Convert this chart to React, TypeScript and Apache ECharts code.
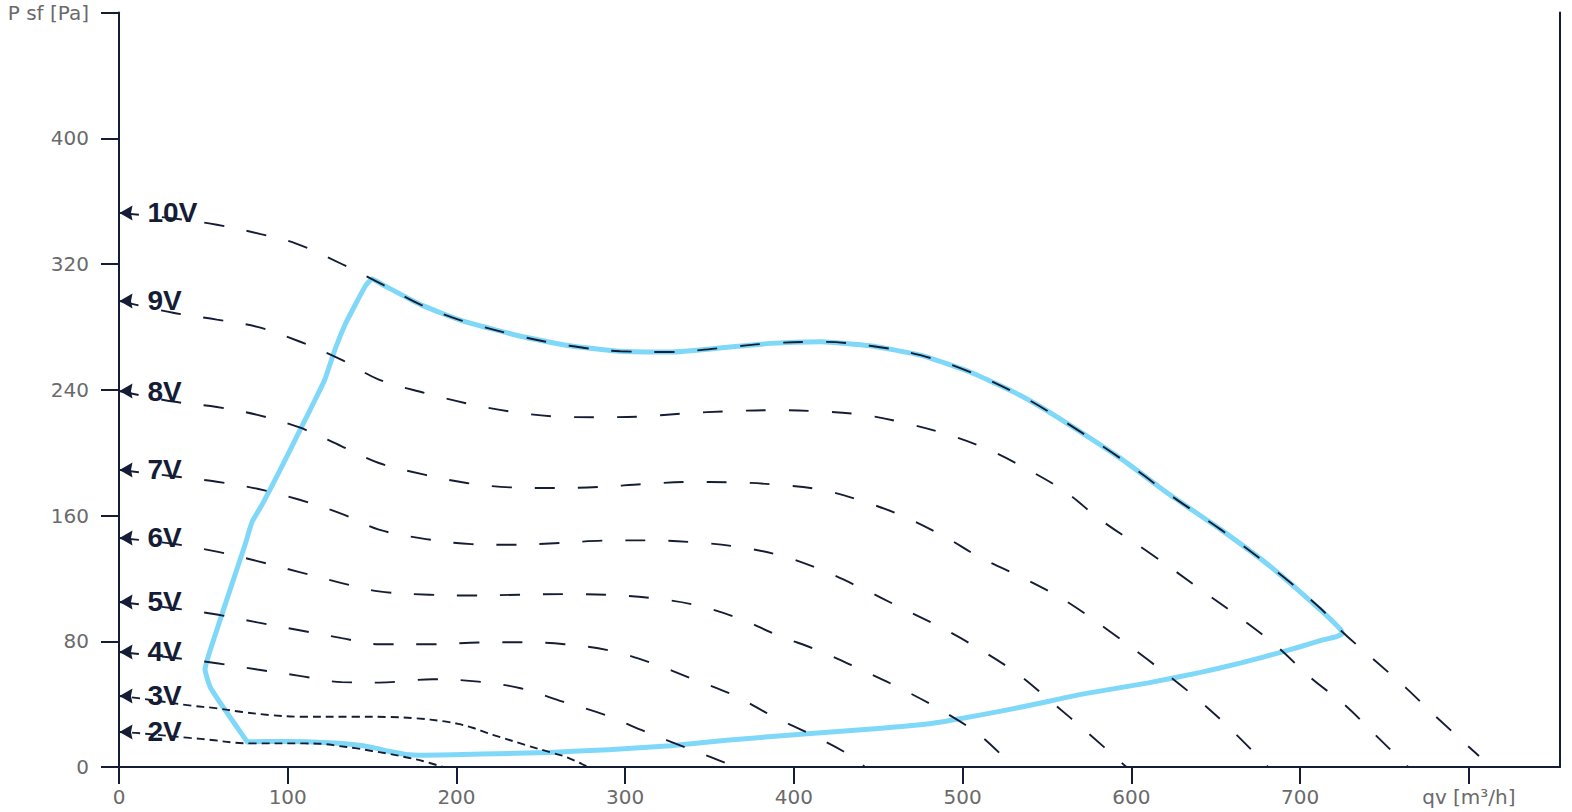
import React, { useEffect, useRef } from 'react';
import * as echarts from 'echarts';

// ---- data ----
const xTickValues = [0, 100, 200, 300, 400, 500, 600, 700, 800];
const X_MAX = 854;
const Y_MAX = 480;
const X_NAME = 'qv [m³/h]';
const Y_NAME = 'P sf [Pa]';

const envelope: number[][] = [
  [76, 16], [62, 37.6], [54, 51], [51, 62], [57, 84], [65.8, 112.7], [74.7, 141.4], [78.9, 156],
  [84.8, 166.9], [95.5, 189], [107.4, 214.6], [116.3, 233.8], [122, 246.5], [128, 265.6],
  [134, 281.5], [140, 294], [146, 306], [150, 310.5], [156, 307], [179, 294], [203, 284],
  [238, 274], [267, 268], [297, 264.5], [327, 264], [356, 266.5], [386, 269.5], [416, 270.5],
  [445, 268], [475, 262], [505, 251], [534, 236.5], [557, 222], [594, 196], [623, 173],
  [653, 151], [683, 127], [712, 100], [724, 87.5], [725, 85], [721, 82.8], [714, 81],
  [700, 76.5], [690, 73.4], [665, 66.2], [641, 60.2], [610, 53.5], [570, 46.2], [552, 42],
  [525, 36], [500, 31], [480, 27.5], [450, 24.5], [406, 21], [360, 17], [327, 13.5],
  [290, 11], [255, 9.3], [215, 8.2], [181, 7.5], [170, 8], [160, 10], [150, 12.5],
  [140, 14.2], [125, 15.5], [100, 16.3], [76, 16]
];

const v10: number[][] = [[0, 352.5], [32, 349], [58, 345], [84, 339], [105, 333], [132, 320], [156, 307], [179, 294], [203, 284], [238, 274], [267, 268], [297, 264.5], [327, 264], [356, 266.5], [386, 269.5], [416, 270.5], [445, 268], [475, 262], [505, 251], [534, 236.5], [557, 222], [594, 196], [623, 173], [653, 151], [683, 127], [712, 101], [724, 87], [743, 69], [763, 50], [780, 32.5], [806, 7]];
const v9: number[][] = [[0, 296.5], [32, 289], [58, 284.6], [82, 280], [107, 270.7], [132, 259], [154, 246.5], [181, 238], [205, 231.6], [231, 226.3], [258, 223], [284, 222.5], [310, 223], [336, 225], [361, 226.3], [388, 227], [414, 226.3], [440, 224.2], [465, 219], [491, 211.5], [515, 202], [539, 189], [561, 175], [582, 157], [611, 136], [641, 113], [668, 92], [687, 76], [706, 57], [727, 39], [745, 20], [764, 0]];
const v8: number[][] = [[0, 239.2], [32, 232.5], [58, 229], [82, 224], [107, 216], [132, 204], [154, 193.4], [181, 186], [206, 180.7], [232, 177.9], [259, 177.5], [284, 178.1], [311, 180], [337, 181.3], [363, 181.1], [390, 179.6], [416, 176.4], [441, 169], [465, 159.4], [489, 146.7], [511, 132.9], [536, 120.2], [560, 106.4], [585, 88], [610, 68], [635, 47], [658, 25], [681, 0]];
const v7: number[][] = [[0, 189], [32, 185], [58, 181.5], [82, 177], [107, 170], [132, 161], [154, 151], [182, 145], [209, 141.8], [235, 141.4], [261, 142.5], [287, 144], [313, 144.2], [340, 143], [365, 140.3], [392, 134.6], [416, 125.5], [440, 113.8], [464, 101], [488, 88.3], [509, 75.6], [532, 59.7], [552, 42], [575, 21], [597, 0]];
const v6: number[][] = [[0, 145.7], [32, 142], [58, 137], [82, 131], [107, 124], [132, 117], [154, 111.7], [184, 109.6], [210, 109.1], [237, 109.6], [264, 110], [289, 109.6], [316, 107.4], [341, 103.2], [367, 94.7], [390, 84], [416, 73.5], [440, 61.8], [463, 50.1], [487, 36.3], [510, 20.4], [530, 0]];
const v5: number[][] = [[0, 105], [32, 101], [58, 97], [82, 92], [107, 87], [132, 82], [154, 78.1], [186, 78.1], [213, 79.2], [239, 79.4], [264, 78.1], [291, 74.1], [316, 66], [340, 56], [364, 45.8], [388, 32], [412, 19.7], [434, 7], [442, 0]];
const v4: number[][] = [[0, 73.2], [32, 69.5], [58, 66], [82, 62], [107, 58], [132, 54], [154, 53.7], [186, 55.8], [213, 54.3], [238, 50.1], [263, 41.6], [288, 33.1], [312, 22.5], [337, 11.9], [360, 2.3], [364, 0]];
const v3: number[][] = [[0, 45.2], [10, 44], [43, 39], [56, 37.6], [73, 35], [90, 33], [107, 32], [139, 32], [160, 31.8], [176, 31], [193, 29], [201, 27.4], [210, 24.8], [218, 21.7], [226, 19], [241, 14], [257, 8.9], [265, 6.4], [278, 0]];
const v2: number[][] = [[0, 22.3], [10, 21.7], [42, 18.5], [55, 17.2], [69, 15.4], [80, 15], [110, 15], [122, 14.6], [130, 13.4], [140, 12], [150, 10.2], [160, 8.4], [170, 6.2], [180, 3.8], [192, 0]];

const curveNames = ['10V', '9V', '8V', '7V', '6V', '5V', '4V', '3V', '2V'];
const curveData = [v10, v9, v8, v7, v6, v5, v4, v3, v2];
const fineDashed = ['3V', '2V'];

const NAVY = '#141d35';
const BLUE = '#80d8f8';
const GRAY = '#6a6a6a';
const ARROW = 'path://M0,6L13,0L11.5,6L13,12Z';

export default function App() {
  const ref = useRef<HTMLDivElement>(null);
  useEffect(() => {
    document.body.style.margin = '0';
    if (!ref.current) return;
    const chart = echarts.init(ref.current, undefined, { renderer: 'svg' });

    const curveSeries = curveData.map((d, i) => ({
      name: curveNames[i],
      type: 'line',
      data: d,
      symbol: 'none',
      showSymbol: false,
      smooth: 0.35,
      z: 3,
      lineStyle: {
        color: NAVY,
        width: 1.9,
        type: fineDashed.includes(curveNames[i]) ? [8, 5] : [20, 23],
      },
    }));

    const startPoints = curveData.map((d, i) => ({ value: [d[0][0], d[0][1]], name: curveNames[i] }));

    const option: any = {
      animation: false,
      grid: { left: 119, right: 12, top: 12.5, bottom: 45, outerBoundsMode: 'none' },
      xAxis: {
        type: 'value',
        min: 0,
        max: X_MAX,
        axisLine: { show: true, lineStyle: { color: NAVY, width: 2 } },
        axisTick: { show: true, length: 17, customValues: xTickValues, lineStyle: { color: NAVY, width: 2 } },
        splitLine: { show: false },
        axisLabel: {
          customValues: xTickValues,
          margin: 20,
          fontSize: 20,
          color: GRAY,
          fontFamily: 'DejaVu Sans',
          formatter: (v: number) => (v === 800 ? X_NAME : String(v)),
        },
      },
      yAxis: [
        {
          type: 'value',
          min: 0,
          max: Y_MAX,
          interval: 80,
          axisLine: { show: true, lineStyle: { color: NAVY, width: 2 } },
          axisTick: { show: true, length: 18, lineStyle: { color: NAVY, width: 2 } },
          splitLine: { show: false },
          axisLabel: {
            margin: 30,
            fontSize: 20,
            color: GRAY,
            fontFamily: 'DejaVu Sans',
            formatter: (v: number) => (v === 480 ? Y_NAME : String(v)),
          },
        },
        {
          type: 'value',
          position: 'right',
          min: 0,
          max: Y_MAX,
          interval: 80,
          axisLine: { show: true, lineStyle: { color: NAVY, width: 2 } },
          axisTick: { show: false },
          axisLabel: { show: false },
          splitLine: { show: false },
        },
      ],
      series: [
        {
          name: 'envelope',
          type: 'line',
          data: envelope,
          symbol: 'none',
          showSymbol: false,
          smooth: 0.15,
          z: 2,
          lineStyle: { color: BLUE, width: 5, cap: 'round', join: 'round' },
        },
        ...curveSeries,
        {
          name: 'arrows',
          type: 'scatter',
          data: startPoints,
          symbol: ARROW,
          symbolSize: [13, 15],
          symbolOffset: [7, 0],
          itemStyle: { color: NAVY, opacity: 1 },
          z: 6,
          silent: true,
        },
        {
          name: 'labels',
          type: 'scatter',
          data: startPoints,
          symbol: 'circle',
          symbolSize: 1,
          itemStyle: { color: 'rgba(0,0,0,0)' },
          z: 7,
          silent: true,
          label: {
            show: true,
            position: 'right',
            distance: 28,
            formatter: '{b}',
            fontSize: 28,
            fontWeight: 'bold',
            fontFamily: '"Liberation Sans", Arial, sans-serif',
            color: NAVY,
            opacity: 1,
          },
        },
      ],
    };
    chart.setOption(option);
    return () => chart.dispose();
  }, []);
  return <div ref={ref} style={{ width: 1572, height: 812 }} />;
}
